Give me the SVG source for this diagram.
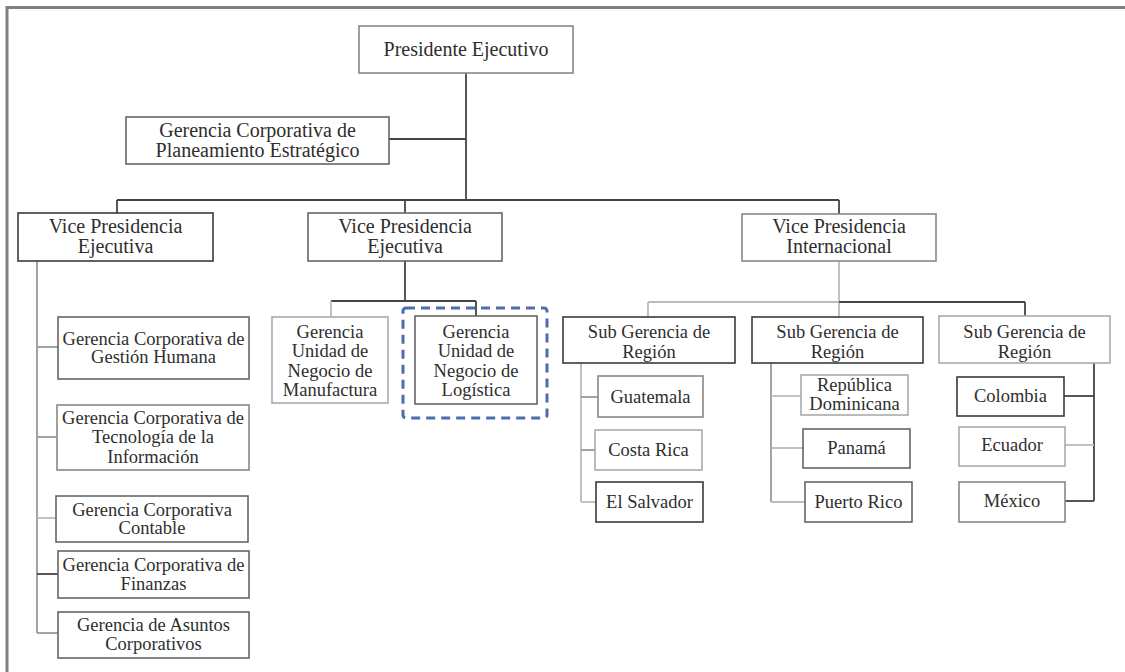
<svg xmlns="http://www.w3.org/2000/svg" width="1125" height="672" viewBox="0 0 1125 672">
<style>
  .box{fill:#fff;stroke-width:1.6}
  .d{stroke:#3a3a3a}
  .m{stroke:#666}
  .g{stroke:#888}
  .l{stroke:#aaa}
  text{font-family:"Liberation Serif","Times New Roman",serif;fill:#2e2e2e;text-anchor:middle;font-size:18.5px}
  .big{font-size:20px}
  .c line,.c path{fill:none;stroke-width:1.8}
  .cd{stroke:#444}
  .cg{stroke:#999}
  .cl{stroke:#bbb}
</style>
<rect x="0" y="0" width="1125" height="672" fill="#fff"/>
<rect x="7" y="7.5" width="1130" height="700" fill="none" stroke="#808080" stroke-width="3"/>

<g class="c" id="connectors">
  <line class="cd" x1="466" y1="73" x2="466" y2="200"/>
  <line class="cd" x1="389" y1="139" x2="466" y2="139"/>
  <line class="cd" x1="117" y1="200" x2="839" y2="200"/>
  <line class="cd" x1="117" y1="200" x2="117" y2="213"/>
  <line class="cd" x1="405" y1="200" x2="405" y2="213"/>
  <line class="cd" x1="839" y1="200" x2="839" y2="214"/>
  <!-- left VP -->
  <line class="cg" x1="37" y1="261" x2="37" y2="633"/>
  <line class="cg" x1="37" y1="347" x2="58" y2="347"/>
  <line class="cg" x1="37" y1="437" x2="57" y2="437"/>
  <line class="cl" x1="37" y1="518" x2="56" y2="518"/>
  <line class="cd" x1="37" y1="574" x2="58" y2="574"/>
  <line class="cg" x1="37" y1="633" x2="58" y2="633"/>
  <!-- middle VP -->
  <line class="cd" x1="405" y1="261" x2="405" y2="301"/>
  <line class="cd" x1="331" y1="301" x2="476" y2="301"/>
  <line class="cl" x1="331" y1="301" x2="331" y2="317"/>
  <line class="cd" x1="476" y1="301" x2="476" y2="316"/>
  <!-- VP Internacional -->
  <line class="cl" x1="839" y1="261" x2="839" y2="317"/>
  <line class="cl" x1="648" y1="302" x2="839" y2="302"/>
  <line class="cd" x1="839" y1="302" x2="1025" y2="302"/>
  <line class="cl" x1="648" y1="302" x2="648" y2="317"/>
  <line class="cd" x1="1025" y1="302" x2="1025" y2="316"/>
  <!-- Sub 1 -->
  <line class="cl" x1="581" y1="363" x2="581" y2="502"/>
  <line class="cg" x1="581" y1="397" x2="598" y2="397"/>
  <line class="cg" x1="581" y1="450" x2="595" y2="450"/>
  <line class="cl" x1="581" y1="502" x2="596" y2="502"/>
  <!-- Sub 2 -->
  <line class="cg" x1="771" y1="363" x2="771" y2="502"/>
  <line class="cl" x1="771" y1="396" x2="801" y2="396"/>
  <line class="cl" x1="771" y1="448" x2="803" y2="448"/>
  <line class="cl" x1="771" y1="502" x2="805" y2="502"/>
  <!-- Sub 3 -->
  <line class="cd" x1="1094" y1="363" x2="1094" y2="501"/>
  <line class="cd" x1="1064" y1="396" x2="1094" y2="396"/>
  <line class="cl" x1="1065" y1="445" x2="1094" y2="445"/>
  <line class="cd" x1="1065" y1="501" x2="1094" y2="501"/>
</g>

<g id="n-presidente"><rect class="box g" x="359" y="26" width="214" height="47"/><text class="big" x="466" y="56">Presidente Ejecutivo</text></g>
<g id="n-planeamiento"><rect class="box m" x="126" y="117" width="263" height="47"/><text class="big" x="257.5" y="137">Gerencia Corporativa de</text><text class="big" x="257.5" y="157">Planeamiento Estratégico</text></g>

<g id="n-vp-left"><rect class="box d" x="18" y="213" width="195" height="48"/><text class="big" x="115.5" y="233">Vice Presidencia</text><text class="big" x="115.5" y="253">Ejecutiva</text></g>
<g id="n-vp-mid"><rect class="box m" x="308" y="213" width="194" height="48"/><text class="big" x="405" y="233">Vice Presidencia</text><text class="big" x="405" y="253">Ejecutiva</text></g>
<g id="n-vp-int"><rect class="box g" x="742" y="214" width="194" height="47"/><text class="big" x="839" y="233">Vice Presidencia</text><text class="big" x="839" y="253">Internacional</text></g>

<g id="n-gestion"><rect class="box m" x="58" y="317" width="191" height="62"/><text x="153.5" y="345">Gerencia Corporativa de</text><text x="153.5" y="363">Gestión Humana</text></g>
<g id="n-tecnologia"><rect class="box g" x="57" y="405" width="192" height="65"/><text x="153" y="424">Gerencia Corporativa de</text><text x="153" y="443">Tecnología de la</text><text x="153" y="463">Información</text></g>
<g id="n-contable"><rect class="box m" x="56" y="496" width="192" height="46"/><text x="152" y="516">Gerencia Corporativa</text><text x="152" y="534">Contable</text></g>
<g id="n-finanzas"><rect class="box m" x="58" y="551" width="191" height="47"/><text x="153.5" y="571">Gerencia Corporativa de</text><text x="153.5" y="590">Finanzas</text></g>
<g id="n-asuntos"><rect class="box m" x="58" y="612" width="191" height="46"/><text x="153.5" y="631">Gerencia de Asuntos</text><text x="153.5" y="650">Corporativos</text></g>

<g id="n-manufactura"><rect class="box l" x="272" y="317" width="116" height="86"/><text x="330" y="338">Gerencia</text><text x="330" y="357">Unidad de</text><text x="330" y="377">Negocio de</text><text x="330" y="396">Manufactura</text></g>
<g id="n-logistica"><rect class="box m" x="415" y="316" width="122" height="88"/><text x="476" y="338">Gerencia</text><text x="476" y="357">Unidad de</text><text x="476" y="377">Negocio de</text><text x="476" y="396">Logística</text>
  <rect x="403" y="308" width="144" height="110" rx="3" fill="none" stroke="#4a6eb0" stroke-width="3" stroke-dasharray="9 6"/></g>

<g id="n-sub1"><rect class="box d" x="563" y="317" width="172" height="46"/><text x="649" y="338">Sub Gerencia de</text><text x="649" y="358">Región</text></g>
<g id="n-sub2"><rect class="box d" x="752" y="317" width="171" height="46"/><text x="837.5" y="338">Sub Gerencia de</text><text x="837.5" y="358">Región</text></g>
<g id="n-sub3"><rect class="box l" x="939" y="316" width="171" height="47"/><text x="1024.5" y="338">Sub Gerencia de</text><text x="1024.5" y="358">Región</text></g>

<g id="n-guatemala"><rect class="box g" x="598" y="376" width="105" height="41"/><text x="650.5" y="403">Guatemala</text></g>
<g id="n-costarica"><rect class="box l" x="595" y="430" width="107" height="40"/><text x="648.5" y="456">Costa Rica</text></g>
<g id="n-elsalvador"><rect class="box d" x="596" y="482" width="107" height="40"/><text x="649.5" y="508">El Salvador</text></g>

<g id="n-repdom"><rect class="box l" x="801" y="375" width="107" height="40"/><text x="854.5" y="391">República</text><text x="854.5" y="410">Dominicana</text></g>
<g id="n-panama"><rect class="box m" x="803" y="429" width="107" height="39"/><text x="856.5" y="454">Panamá</text></g>
<g id="n-puertorico"><rect class="box m" x="805" y="482" width="107" height="40"/><text x="858.5" y="508">Puerto Rico</text></g>

<g id="n-colombia"><rect class="box d" x="957" y="377" width="107" height="39"/><text x="1010.5" y="402">Colombia</text></g>
<g id="n-ecuador"><rect class="box l" x="959" y="427" width="106" height="39"/><text x="1012" y="451">Ecuador</text></g>
<g id="n-mexico"><rect class="box g" x="959" y="482" width="106" height="40"/><text x="1012" y="507">México</text></g>
</svg>
